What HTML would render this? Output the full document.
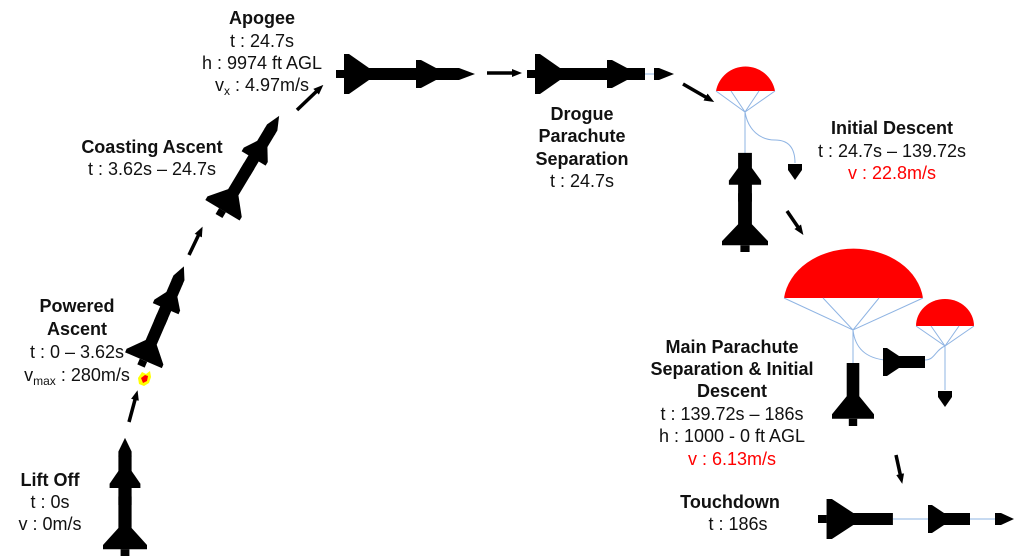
<!DOCTYPE html>
<html><head><meta charset="utf-8"><style>
html,body{margin:0;padding:0;background:#fff;}
svg{display:block;}
text{font-family:"Liberation Sans","Noto Sans CJK KR",sans-serif;font-size:18px;fill:#111;text-anchor:middle;}
.b{font-weight:bold;}
.r{fill:#f00;}
</style></head><body>
<svg width="1023" height="560" viewBox="0 0 1023 560" xmlns="http://www.w3.org/2000/svg">
<defs>
<g id="booster">
<rect x="0" y="-4" width="8" height="8"/>
<polygon points="8,-20 13,-20 33,-6 70,-6 70,6 33,6 13,20 8,20"/>
</g>
<g id="rb">
<use href="#booster"/>
<rect x="60" y="-6" width="58" height="12"/>
<polygon points="80,-14 85,-14 100,-6 100,6 85,14 80,14"/>
</g>
<polygon id="nose" points="0,-6 5,-6 20,0 5,6 0,6"/>
<g id="rocket"><use href="#rb"/><polygon points="117,-6 123,-6 139,0 123,6 117,6"/></g>
<polygon id="midp" points="0,-14 4,-14 16,-6 42,-6 42,6 16,6 4,14 0,14"/>
<polygon id="cone" points="-7,0 7,0 7,6 0,16 -7,6"/>
<marker id="ah" markerWidth="10" markerHeight="10" refX="4" refY="5" orient="auto" markerUnits="userSpaceOnUse"><path d="M0,1 L10,5 L0,9 z" fill="#000"/></marker>
</defs>

<use href="#rocket" transform="translate(125,556) rotate(-90) scale(0.85,1.1)"/>
<use href="#rocket" transform="translate(141,366) rotate(-66.7) scale(0.78,1)"/>
<use href="#rocket" transform="translate(219,216) rotate(-59) scale(0.84,1)"/>
<use href="#rocket" transform="translate(336,74)"/>
<use href="#rb" transform="translate(527,74)"/>
<line x1="645" y1="74" x2="655" y2="74" stroke="#8fb4e3" stroke-width="1"/>
<use href="#nose" transform="translate(654,74)"/>

<polygon points="138,378 142,372 146,374 150,371 151,377 149,383 144,386 139,384" fill="#ff0"/>
<polygon points="141,378 145,375 148,376 147,381 143,383" fill="#f00"/>

<g stroke="#000" stroke-width="3.5" fill="none" marker-end="url(#ah)">
<line x1="129" y1="422" x2="136" y2="396"/>
<line x1="189" y1="255" x2="200" y2="232"/>
<line x1="297" y1="110" x2="319" y2="89"/>
<line x1="487" y1="73" x2="516" y2="73"/>
<line x1="683" y1="84" x2="709" y2="99"/>
<line x1="787" y1="211" x2="800" y2="230"/>
<line x1="896" y1="455" x2="901" y2="478"/>
</g>

<path d="M716,91 A30,30 0 0 1 775,91 Z" fill="#f00"/>
<g stroke="#8fb4e3" stroke-width="1" fill="none">
<path d="M716,91 L745,112 L775,91 M731,91 L745,112 L759,91 M745,112 L745,153"/>
<path d="M745,112 C748,130 760,140 775,140 C790,140 795,150 795,163"/>
</g>
<use href="#rb" transform="translate(745,252) rotate(-90) scale(0.84,1.15)"/>
<use href="#cone" transform="translate(795,164)"/>

<path d="M784,298 A70,56 0 0 1 923,298 Z" fill="#f00"/>
<path d="M916,326 A29,27 0 0 1 974,326 Z" fill="#f00"/>
<g stroke="#8fb4e3" stroke-width="1" fill="none">
<path d="M784,298 L853,330 L923,298 M823,298 L853,330 L879,298 M853,330 L853,364"/>
<path d="M853,330 C855,348 866,358 885,360"/>
<path d="M916,326 L945,346 L974,326 M931,326 L945,346 L959,326 M945,346 L945,390"/>
<path d="M925,360 C935,360 935,350 945,346"/>
</g>
<use href="#booster" transform="translate(853,426) rotate(-90) scale(0.9,1.05)"/>
<use href="#midp" transform="translate(883,362)"/>
<use href="#cone" transform="translate(945,391)"/>

<use href="#booster" transform="translate(818,519) scale(1.07,1)"/>
<line x1="893" y1="519" x2="929" y2="519" stroke="#8fb4e3" stroke-width="1"/>
<use href="#midp" transform="translate(928,519)"/>
<line x1="970" y1="519" x2="996" y2="519" stroke="#8fb4e3" stroke-width="1"/>
<polygon points="995,-6 1001,-6 1014,0 1001,6 995,6" transform="translate(0,519)"/>

<text x="262" y="24" class="b">Apogee</text>
<text x="262" y="47">t : 24.7s</text>
<text x="262" y="69">h : 9974 ft AGL</text>
<text x="262" y="91">v<tspan font-size="12" dy="4">x</tspan><tspan dy="-4"> : 4.97m/s</tspan></text>

<text x="152" y="153" class="b">Coasting Ascent</text>
<text x="152" y="175">t : 3.62s – 24.7s</text>

<text x="77" y="312" class="b">Powered</text>
<text x="77" y="335" class="b">Ascent</text>
<text x="77" y="358">t : 0 – 3.62s</text>
<text x="77" y="381">v<tspan font-size="12" dy="4">max</tspan><tspan dy="-4"> : 280m/s</tspan></text>

<text x="50" y="486" class="b">Lift Off</text>
<text x="50" y="508">t : 0s</text>
<text x="50" y="530">v : 0m/s</text>

<text x="582" y="120" class="b">Drogue</text>
<text x="582" y="142" class="b">Parachute</text>
<text x="582" y="165" class="b">Separation</text>
<text x="582" y="187">t : 24.7s</text>

<text x="892" y="134" class="b">Initial Descent</text>
<text x="892" y="157">t : 24.7s – 139.72s</text>
<text x="892" y="179" class="r">v : 22.8m/s</text>

<text x="732" y="353" class="b">Main Parachute</text>
<text x="732" y="375" class="b">Separation &amp; Initial</text>
<text x="732" y="397" class="b">Descent</text>
<text x="732" y="420">t : 139.72s – 186s</text>
<text x="732" y="442">h : 1000 - 0 ft AGL</text>
<text x="732" y="465" class="r">v : 6.13m/s</text>

<text x="730" y="508" class="b">Touchdown</text>
<text x="738" y="530">t : 186s</text>
</svg>
</body></html>
